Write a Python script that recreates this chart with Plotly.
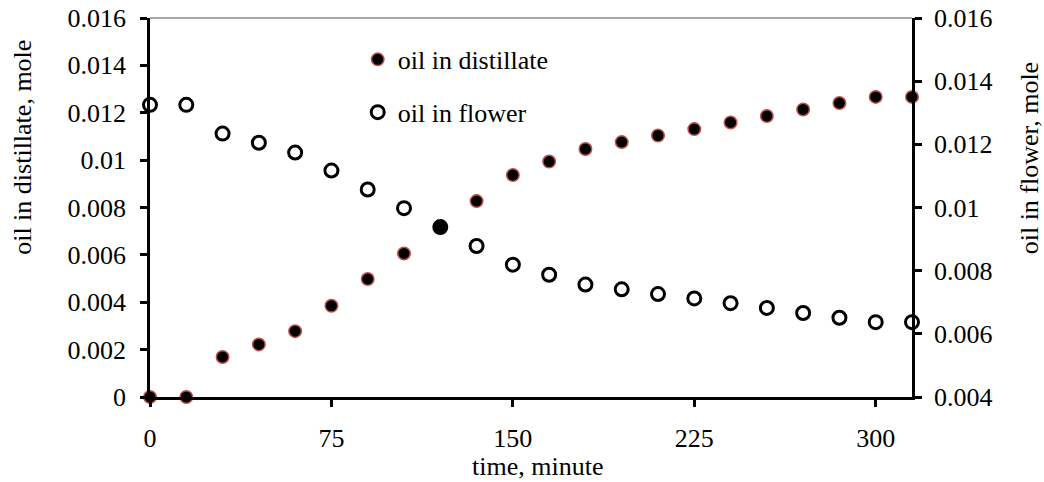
import plotly.graph_objects as go

time_min = [0, 15, 30, 45, 60, 75, 90, 105, 120, 135, 150, 165, 180, 195, 210, 225, 240, 255, 270, 285, 300, 315]
oil_distillate = [0, 0, 0.00169, 0.00222, 0.00278, 0.00385, 0.00498, 0.00606, 0.00719, 0.00827, 0.00937,
                  0.00994, 0.01047, 0.01076, 0.01104, 0.01131, 0.01159, 0.01186, 0.01214, 0.01241, 0.01267, 0.01267]
oil_flower = [0.01325, 0.01325, 0.01234, 0.01205, 0.01174, 0.01117, 0.01057, 0.00998, 0.00938, 0.00878, 0.00819,
              0.00787, 0.00756, 0.00741, 0.00726, 0.00712, 0.00697, 0.00682, 0.00666, 0.00651, 0.00637, 0.00637]

x_ticks = [0, 75, 150, 225, 300]
y_left_ticks = [0, 0.002, 0.004, 0.006, 0.008, 0.01, 0.012, 0.014, 0.016]
y_left_text = ["0", "0.002", "0.004", "0.006", "0.008", "0.01", "0.012", "0.014", "0.016"]
y_right_ticks = [0.004, 0.006, 0.008, 0.01, 0.012, 0.014, 0.016]
y_right_text = ["0.004", "0.006", "0.008", "0.01", "0.012", "0.014", "0.016"]

FONT = "Liberation Serif, Times New Roman, serif"
FS = 26

fig = go.Figure()
fig.add_trace(go.Scatter(
    x=time_min, y=oil_distillate, mode="markers", name="oil in distillate",
    legendgroup="a", cliponaxis=False,
    marker=dict(symbol="circle", size=12.5, color="black", line=dict(color="#c0504d", width=1.5)),
    yaxis="y"))
fig.add_trace(go.Scatter(
    x=time_min, y=oil_flower, mode="markers", name="oil in flower",
    legendgroup="b", cliponaxis=False,
    marker=dict(symbol="circle-open", size=13, color="black", line=dict(color="black", width=3)),
    yaxis="y2"))

axis_common = dict(showgrid=False, zeroline=False, linecolor="black", linewidth=2.5,
                   tickcolor="black", tickwidth=2.5, ticklen=7, automargin=False,
                   tickfont=dict(family=FONT, size=FS, color="black"))

fig.update_layout(
    width=1044, height=482,
    margin=dict(l=150, r=132, t=17.5, b=85, autoexpand=False),
    paper_bgcolor="white", plot_bgcolor="white",
    font=dict(family=FONT, size=FS, color="black"),
    showlegend=True,
    legend=dict(x=0.2726, y=0.9527, xanchor="left", yanchor="top", bgcolor="rgba(0,0,0,0)",
                font=dict(family=FONT, size=FS, color="black"), tracegroupgap=16,
                itemsizing="trace"),
    xaxis=dict(range=[0, 315], tickvals=x_ticks, ticks="outside", showline=True,
               ticklabelstandoff=9, anchor="y", **axis_common),
    xaxis3=dict(range=[0, 315], tickvals=x_ticks, ticks="inside", showline=False,
                showticklabels=False, overlaying="x", anchor="y", **axis_common),
    yaxis=dict(range=[0, 0.016], tickvals=y_left_ticks, ticktext=y_left_text, ticks="outside",
               showline=True, ticklabelstandoff=9, anchor="x", **axis_common),
    yaxis2=dict(range=[0.004, 0.016], tickvals=y_right_ticks, ticktext=y_right_text, ticks="outside",
                showline=True, side="right", overlaying="y", anchor="x", ticklabelstandoff=7,
                **axis_common),
    yaxis3=dict(range=[0, 0.016], tickvals=y_left_ticks, ticks="inside", showline=False,
                showticklabels=False, overlaying="y", anchor="x", side="left", **axis_common),
    yaxis4=dict(range=[0.004, 0.016], tickvals=y_right_ticks, ticks="inside", showline=False,
                showticklabels=False, overlaying="y", anchor="x", side="right", **axis_common),
    shapes=[dict(type="line", xref="paper", yref="paper", x0=0, x1=1, y0=1, y1=1,
                 line=dict(color="#8c8c8c", width=1.5), layer="below")],
    annotations=[
        dict(text="oil in distillate, mole", xref="paper", yref="paper",
             x=(23 - 150) / 762, y=1 - (147.5 - 17.5) / 379.5, xanchor="center", yanchor="middle",
             textangle=-90, showarrow=False, font=dict(family=FONT, size=FS, color="black")),
        dict(text="oil in flower, mole", xref="paper", yref="paper",
             x=(1029 - 150) / 762, y=1 - (158 - 17.5) / 379.5, xanchor="center", yanchor="middle",
             textangle=-90, showarrow=False, font=dict(family=FONT, size=FS, color="black")),
        dict(text="time, minute", xref="paper", yref="paper",
             x=(537 - 150) / 762, y=-(467 - 397) / 379.5, xanchor="center", yanchor="middle",
             showarrow=False, font=dict(family=FONT, size=FS, color="black")),
    ],
)

fig.write_html("out.html", config={"displayModeBar": False},
               post_script="document.body.style.margin='0';")
